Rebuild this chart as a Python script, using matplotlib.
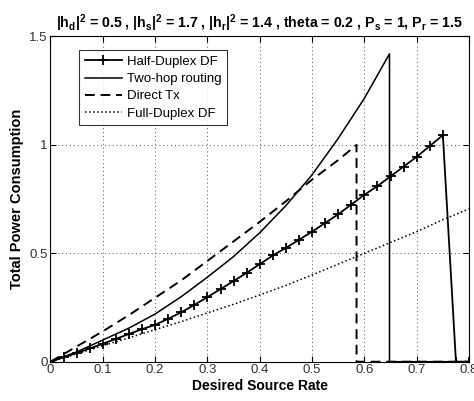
import matplotlib
matplotlib.use("Agg")
import matplotlib.pyplot as plt

plt.rcParams['font.family'] = ['Liberation Sans', 'DejaVu Sans']

# Half-Duplex DF (step 0.025)
hd_x = [0, 0.025, 0.05, 0.075, 0.1, 0.125, 0.15, 0.175, 0.2, 0.225, 0.25, 0.275,
        0.3, 0.325, 0.35, 0.375, 0.4, 0.425, 0.45, 0.475, 0.5, 0.525, 0.55, 0.575,
        0.6, 0.625, 0.65, 0.675, 0.7, 0.725, 0.75, 0.775, 0.8]
hd_y = [0, 0.02, 0.04, 0.061, 0.083, 0.105, 0.128, 0.15, 0.17, 0.198, 0.228, 0.262,
        0.298, 0.335, 0.372, 0.41, 0.45, 0.49, 0.525, 0.562, 0.60, 0.64, 0.68, 0.725,
        0.77, 0.81, 0.855, 0.90, 0.945, 0.995, 1.045, 0, 0]

# Two-hop routing
th_x = [0, 0.05, 0.1, 0.15, 0.2, 0.25, 0.3, 0.35, 0.4, 0.45, 0.5, 0.55, 0.6, 0.648, 0.648, 0.8]
th_y = [0, 0.045, 0.10, 0.155, 0.22, 0.30, 0.39, 0.485, 0.595, 0.72, 0.862, 1.03, 1.215, 1.42, 0, 0]

# Direct Tx
dt_x = [0, 0.05, 0.1, 0.15, 0.2, 0.25, 0.3, 0.35, 0.4, 0.45, 0.5, 0.55, 0.585, 0.585, 0.8]
dt_y = [0, 0.07, 0.14, 0.215, 0.295, 0.375, 0.465, 0.555, 0.645, 0.74, 0.84, 0.93, 1.0, 0, 0]

# Full-Duplex DF
fd_x = [0, 0.05, 0.1, 0.15, 0.2, 0.25, 0.3, 0.35, 0.4, 0.45, 0.5, 0.55, 0.6, 0.65, 0.7, 0.75, 0.8]
fd_y = [0, 0.036, 0.074, 0.11, 0.148, 0.185, 0.225, 0.265, 0.308, 0.352, 0.40, 0.45, 0.50,
        0.55, 0.60, 0.655, 0.705]

xticks = [0, 0.1, 0.2, 0.3, 0.4, 0.5, 0.6, 0.7, 0.8]
xticklabels = ['0', '0.1', '0.2', '0.3', '0.4', '0.5', '0.6', '0.7', '0.8']
yticks = [0, 0.5, 1, 1.5]
yticklabels = ['0', '0.5', '1', '1.5']

fig = plt.figure(figsize=(4.74, 4.01), dpi=100)
ax = fig.add_axes([0.1065, 0.098, 0.883, 0.811])

ax.plot(hd_x, hd_y, '-', color='black', lw=1.3, marker='+', markersize=7,
        markeredgewidth=1.3, label='Half-Duplex DF')
ax.plot(th_x, th_y, '-', color='black', lw=1.1, label='Two-hop routing')
ax.plot(dt_x, dt_y, '--', color='black', lw=1.4, dashes=(5, 3), label='Direct Tx')
ax.plot(fd_x, fd_y, ':', color='black', lw=1.1, label='Full-Duplex DF')

ax.set_xlim(0, 0.8)
ax.set_ylim(0, 1.5)
ax.set_xticks(xticks)
ax.set_xticklabels(xticklabels)
ax.set_yticks(yticks)
ax.set_yticklabels(yticklabels)
ax.tick_params(direction='in', top=True, right=True, labelsize=9.5, length=4,
               colors='black', labelcolor='#333333', pad=2)
ax.grid(True, linestyle=(0, (1, 3)), color='#555555', lw=0.7)
for s in ax.spines.values():
    s.set_linewidth(0.8)

ax.set_xlabel('Desired Source Rate', fontsize=10, fontweight='bold', labelpad=2)
ax.set_ylabel('Total Power Consumption', fontsize=10.5, fontweight='bold', labelpad=4)
ax.set_title(r'|h$_\mathregular{d}$|$^\mathregular{2}$ = 0.5 , |h$_\mathregular{s}$|$^\mathregular{2}$ = 1.7 , '
             r'|h$_\mathregular{r}$|$^\mathregular{2}$ = 1.4 , theta = 0.2 , P$_\mathregular{s}$ = 1, '
             r'P$_\mathregular{r}$ = 1.5', fontsize=10.2, fontweight='bold', pad=6)

leg = ax.legend(loc='upper left', bbox_to_anchor=(0.069, 0.957), fontsize=9.5,
                handlelength=2.8, labelspacing=0.38, handletextpad=0.4,
                borderpad=0.4, fancybox=False, frameon=True, borderaxespad=0)
leg.get_frame().set_edgecolor('black')
leg.get_frame().set_linewidth(0.8)

fig.savefig('out.png', dpi=100)
